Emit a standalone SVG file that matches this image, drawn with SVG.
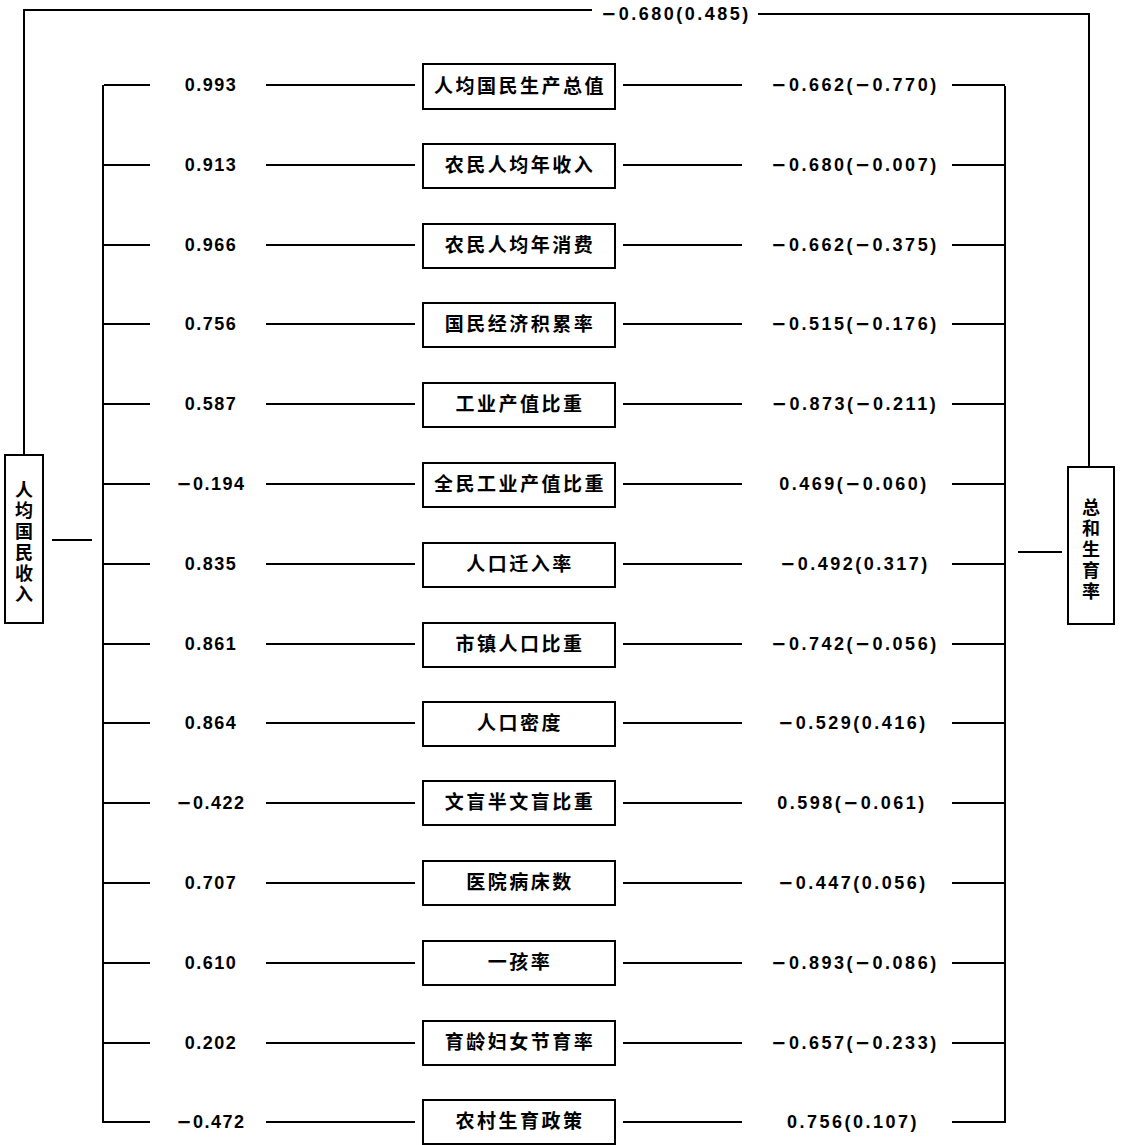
<svg xmlns="http://www.w3.org/2000/svg" width="1122" height="1145" viewBox="0 0 1122 1145">
<style>
.bg{fill:#fff}
.ln{stroke:#000;stroke-width:2;fill:none}
.box{fill:#fff;stroke:#000;stroke-width:2}
.cn{font-family:"Noto Sans CJK SC","Noto Sans CJK TC",sans-serif;font-weight:700;font-size:19px;letter-spacing:2.5px;fill:#000;text-anchor:middle}
.vt{font-family:"Noto Sans CJK SC","Noto Sans CJK TC",sans-serif;font-weight:700;font-size:18px;letter-spacing:3px;fill:#000;writing-mode:vertical-rl;text-orientation:upright}
.nl{font-family:"Liberation Sans",Arial,sans-serif;font-weight:700;font-size:18px;letter-spacing:1.5px;fill:#000;text-anchor:middle}
.nr{font-family:"Liberation Sans",Arial,sans-serif;font-weight:700;font-size:18px;letter-spacing:2.5px;fill:#000;text-anchor:middle}
.m{font-family:"DejaVu Sans",sans-serif;font-weight:700}
</style>
<rect class="bg" x="0" y="0" width="1122" height="1145"/>
<g id="connectors">
<path class="ln" d="M24,455 V10 H592"/>
<path class="ln" d="M758,14 H1089 V467"/>
<line class="ln" x1="52" y1="540" x2="92" y2="540"/>
<line class="ln" x1="1018" y1="552" x2="1062" y2="552"/>
<line class="ln" x1="103" y1="85" x2="103" y2="1123"/>
<line class="ln" x1="1005" y1="86" x2="1005" y2="1123"/>
<path class="ln" d="M104,85 H150 M266,85 H415 M623,85 H742 M952,85 H1005"/>
<path class="ln" d="M104,165 H150 M266,165 H415 M623,165 H742 M952,165 H1005"/>
<path class="ln" d="M104,245 H150 M266,245 H415 M623,245 H742 M952,245 H1005"/>
<path class="ln" d="M104,324 H150 M266,324 H415 M623,324 H742 M952,324 H1005"/>
<path class="ln" d="M104,404 H150 M266,404 H415 M623,404 H742 M952,404 H1005"/>
<path class="ln" d="M104,484 H150 M266,484 H415 M623,484 H742 M952,484 H1005"/>
<path class="ln" d="M104,564 H150 M266,564 H415 M623,564 H742 M952,564 H1005"/>
<path class="ln" d="M104,644 H150 M266,644 H415 M623,644 H742 M952,644 H1005"/>
<path class="ln" d="M104,723 H150 M266,723 H415 M623,723 H742 M952,723 H1005"/>
<path class="ln" d="M104,803 H150 M266,803 H415 M623,803 H742 M952,803 H1005"/>
<path class="ln" d="M104,883 H150 M266,883 H415 M623,883 H742 M952,883 H1005"/>
<path class="ln" d="M104,963 H150 M266,963 H415 M623,963 H742 M952,963 H1005"/>
<path class="ln" d="M104,1043 H150 M266,1043 H415 M623,1043 H742 M952,1043 H1005"/>
<path class="ln" d="M104,1122 H150 M266,1122 H415 M623,1122 H742 M952,1122 H1005"/>
</g>
<g id="edge-labels">
<text class="nr" x="676" y="20"><tspan class="m">−</tspan>0.680(0.485)</text>
<text class="nl" x="211" y="91">0.993</text>
<text class="nl" x="211" y="171">0.913</text>
<text class="nl" x="211" y="251">0.966</text>
<text class="nl" x="211" y="330">0.756</text>
<text class="nl" x="211" y="410">0.587</text>
<text class="nl" x="211" y="490"><tspan class="m">−</tspan>0.194</text>
<text class="nl" x="211" y="570">0.835</text>
<text class="nl" x="211" y="650">0.861</text>
<text class="nl" x="211" y="729">0.864</text>
<text class="nl" x="211" y="809"><tspan class="m">−</tspan>0.422</text>
<text class="nl" x="211" y="889">0.707</text>
<text class="nl" x="211" y="969">0.610</text>
<text class="nl" x="211" y="1049">0.202</text>
<text class="nl" x="211" y="1128"><tspan class="m">−</tspan>0.472</text>
<text class="nr" x="855" y="91"><tspan class="m">−</tspan>0.662(<tspan class="m">−</tspan>0.770)</text>
<text class="nr" x="855" y="171"><tspan class="m">−</tspan>0.680(<tspan class="m">−</tspan>0.007)</text>
<text class="nr" x="855" y="251"><tspan class="m">−</tspan>0.662(<tspan class="m">−</tspan>0.375)</text>
<text class="nr" x="855" y="330"><tspan class="m">−</tspan>0.515(<tspan class="m">−</tspan>0.176)</text>
<text class="nr" x="855" y="410"><tspan class="m">−</tspan>0.873(<tspan class="m">−</tspan>0.211)</text>
<text class="nr" x="854" y="490">0.469(<tspan class="m">−</tspan>0.060)</text>
<text class="nr" x="855" y="570"><tspan class="m">−</tspan>0.492(0.317)</text>
<text class="nr" x="855" y="650"><tspan class="m">−</tspan>0.742(<tspan class="m">−</tspan>0.056)</text>
<text class="nr" x="853" y="729"><tspan class="m">−</tspan>0.529(0.416)</text>
<text class="nr" x="852" y="809">0.598(<tspan class="m">−</tspan>0.061)</text>
<text class="nr" x="853" y="889"><tspan class="m">−</tspan>0.447(0.056)</text>
<text class="nr" x="855" y="969"><tspan class="m">−</tspan>0.893(<tspan class="m">−</tspan>0.086)</text>
<text class="nr" x="855" y="1049"><tspan class="m">−</tspan>0.657(<tspan class="m">−</tspan>0.233)</text>
<text class="nr" x="853" y="1128">0.756(0.107)</text>
</g>
<g id="node-left">
<rect class="box" x="5" y="455" width="38" height="168"/>
<text class="vt" x="24" y="480">人均国民收入</text>
</g>
<g id="node-right">
<rect class="box" x="1068" y="467" width="46" height="157"/>
<text class="vt" x="1091" y="498">总和生育率</text>
</g>
<g id="node-1"><rect class="box" x="423" y="64" width="192" height="45"/><text class="cn" x="520" y="93">人均国民生产总值</text></g>
<g id="node-2"><rect class="box" x="423" y="144" width="192" height="44"/><text class="cn" x="520" y="172">农民人均年收入</text></g>
<g id="node-3"><rect class="box" x="423" y="224" width="192" height="44"/><text class="cn" x="520" y="252">农民人均年消费</text></g>
<g id="node-4"><rect class="box" x="423" y="303" width="192" height="44"/><text class="cn" x="520" y="331">国民经济积累率</text></g>
<g id="node-5"><rect class="box" x="423" y="383" width="192" height="44"/><text class="cn" x="520" y="411">工业产值比重</text></g>
<g id="node-6"><rect class="box" x="423" y="463" width="192" height="44"/><text class="cn" x="520" y="491">全民工业产值比重</text></g>
<g id="node-7"><rect class="box" x="423" y="543" width="192" height="44"/><text class="cn" x="520" y="571">人口迁入率</text></g>
<g id="node-8"><rect class="box" x="423" y="623" width="192" height="44"/><text class="cn" x="520" y="651">市镇人口比重</text></g>
<g id="node-9"><rect class="box" x="423" y="702" width="192" height="44"/><text class="cn" x="520" y="730">人口密度</text></g>
<g id="node-10"><rect class="box" x="423" y="781" width="192" height="44"/><text class="cn" x="520" y="809">文盲半文盲比重</text></g>
<g id="node-11"><rect class="box" x="423" y="861" width="192" height="44"/><text class="cn" x="520" y="889">医院病床数</text></g>
<g id="node-12"><rect class="box" x="423" y="941" width="192" height="44"/><text class="cn" x="520" y="969">一孩率</text></g>
<g id="node-13"><rect class="box" x="423" y="1021" width="192" height="44"/><text class="cn" x="520" y="1049">育龄妇女节育率</text></g>
<g id="node-14"><rect class="box" x="423" y="1100" width="192" height="44"/><text class="cn" x="520" y="1128">农村生育政策</text></g>
</svg>
